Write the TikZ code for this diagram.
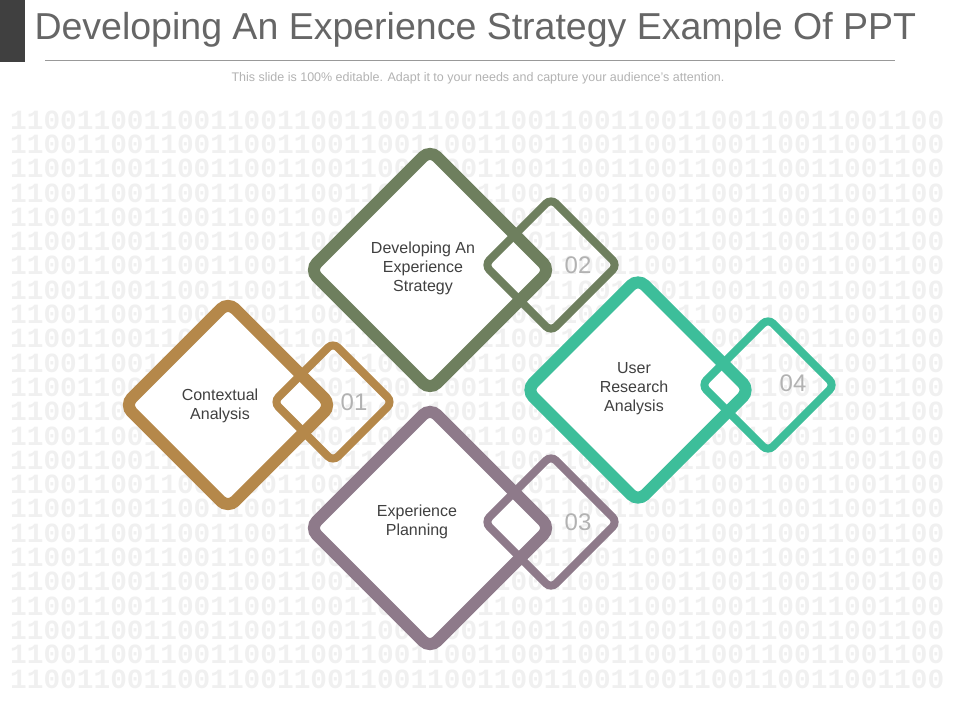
\documentclass[tikz,border=0pt]{standalone}
\usepackage{fontspec}
\setmainfont{Liberation Sans}
\newfontfamily\digitfont{Liberation Mono}
\usetikzlibrary{positioning}
\definecolor{brownc}{HTML}{B5884A}
\definecolor{olivec}{HTML}{6E7F5E}
\definecolor{plumc}{HTML}{8E7A8A}
\definecolor{tealc}{HTML}{3DBE9A}
\tikzset{
  bigdia/.style={draw=#1, line width=12pt, rounded corners=10pt, fill=white, rotate=45, inner sep=0pt},
  smalldia/.style={draw=#1, line width=8pt, rounded corners=7pt, rotate=45, inner sep=0pt},
  lbl/.style={font=\fontsize{16}{19}\selectfont, text=black!75, align=center},
  num/.style={font=\fontsize{24}{24}\selectfont, text=black!30}
}
\begin{document}
\begin{tikzpicture}[x=1pt, y=-1pt]
  \useasboundingbox (0,0) rectangle (960,720);
  \clip (0,0) rectangle (960,720);
  % background digits
  \foreach \r in {0,...,23}
    \node[anchor=west, inner sep=0pt, text=black!6, font=\fontsize{27.8}{28}\selectfont\digitfont\bfseries] (row\r) at (10,{120+\r*24.3}) {11001100110011001100110011001100110011001100110011001100};
  % title
  \fill[black!75] (0,0) rectangle (25,62);
  \node[anchor=west, text=black!60, font=\fontsize{37.5}{38}\selectfont] (title) at (31,30) {Developing An Experience Strategy Example Of PPT};
  \draw[black!40] (45,60) -- (895,60);
  \node[text=black!30, font=\fontsize{12.5}{13}\selectfont] (sub) at (478,78) {This slide is 100\% editable. Adapt it to your needs and capture your audience's attention.};
  % diamonds
  \node[bigdia=brownc, minimum size=146pt] (d1) at (228,405) {};
  \node[smalldia=brownc, minimum size=84pt] (s1) at (333,402) {};
  \node[bigdia=olivec, minimum size=170pt] (d2) at (430,270) {};
  \node[smalldia=olivec, minimum size=94pt] (s2) at (551,265) {};
  \node[bigdia=plumc, minimum size=170pt] (d3) at (430,528) {};
  \node[smalldia=plumc, minimum size=94pt] (s3) at (551,522) {};
  \node[bigdia=tealc, minimum size=158pt] (d4) at (638,390) {};
  \node[smalldia=tealc, minimum size=94pt] (s4) at (768,385) {};
  % labels
  \node[lbl] (l1) at (220,406) {Contextual\\Analysis};
  \node[lbl] (l2) at (423,268) {Developing An\\Experience\\Strategy};
  \node[lbl] (l3) at (417,522) {Experience\\Planning};
  \node[lbl] (l4) at (634,389) {User\\Research\\Analysis};
  \node[num] (n1) at (354,402) {01};
  \node[num] (n2) at (578,265) {02};
  \node[num] (n3) at (578,522) {03};
  \node[num] (n4) at (793,383) {04};
\end{tikzpicture}
\end{document}
